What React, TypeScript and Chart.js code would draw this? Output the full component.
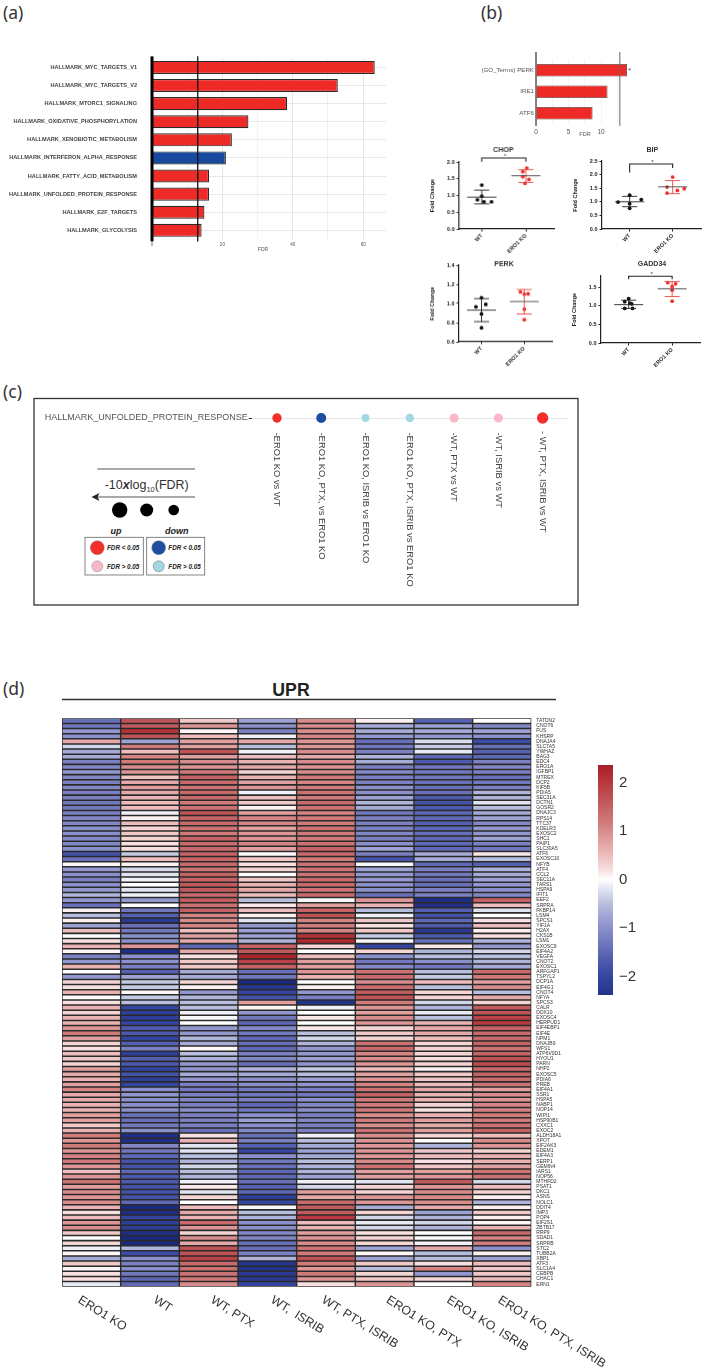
import React, { useEffect, useRef } from "react";
import { Chart, registerables } from "chart.js";

Chart.register(...registerables);

const SANS = "'Liberation Sans', Arial, sans-serif";

// ---------- panel (a)
const hallmarkTerms = [
  "HALLMARK_MYC_TARGETS_V1", "HALLMARK_MYC_TARGETS_V2", "HALLMARK_MTORC1_SIGNALING",
  "HALLMARK_OXIDATIVE_PHOSPHORYLATION", "HALLMARK_XENOBIOTIC_METABOLISM",
  "HALLMARK_INTERFERON_ALPHA_RESPONSE", "HALLMARK_FATTY_ACID_METABOLISM",
  "HALLMARK_UNFOLDED_PROTEIN_RESPONSE", "HALLMARK_E2F_TARGETS", "HALLMARK_GLYCOLYSIS",
];
const hallmarkFdr = [63.3, 52.8, 38.4, 27.4, 22.7, 21, 16.2, 16.2, 14.9, 14.1];
const hallmarkColors = ["#ee2a26", "#ee2a26", "#ee2a26", "#ee2a26", "#ee2a26", "#174a9e", "#ee2a26", "#ee2a26", "#ee2a26", "#ee2a26"];
const hallmarkThreshold = 13;

// ---------- panel (b) top
const armTerms = ["(GO_Terms) PERK", "IRE1", "ATF6"];
const armFdr = [14, 11, 8.7];
const armThreshold = 12.9;

// ---------- panel (b) scatter plots: [jitter, value]
const chopWt = [[0, 1.31], [0, 0.98], [-0.1, 0.87], [0.05, 0.81], [0.22, 0.81]];
const chopKo = [[0.02, 1.82], [-0.07, 1.71], [-0.07, 1.56], [0.07, 1.48], [-0.02, 1.36]];
const chopStats = [[0.95, 1.16, 0.75], [1.59, 1.77, 1.39]];
const bipWt = [[0, 1.24], [0.27, 1.08], [-0.27, 0.99], [0, 0.93], [0, 0.76]];
const bipKo = [[0, 1.91], [-0.13, 1.54], [0.27, 1.48], [0.11, 1.42], [-0.13, 1.32]];
const bipStats = [[1.0, 1.2, 0.82], [1.55, 1.78, 1.3]];
const perkWt = [[0, 1.06], [0.1, 0.99], [-0.13, 0.965], [0, 0.89], [0, 0.746]];
const perkKo = [[-0.09, 1.12], [0.09, 1.1], [0, 1.097], [0, 0.94], [0, 0.83]];
const perkStats = [[0.93, 1.05, 0.81], [1.02, 1.146, 0.89]];
const gaddWt = [[0, 1.19], [-0.09, 1.11], [0.03, 1.07], [0.07, 1.05], [-0.09, 0.93], [0.09, 0.93]];
const gaddKo = [[-0.1, 1.62], [0.08, 1.59], [0, 1.52], [0, 1.42], [0, 1.125]];
const gaddStats = [[1.03, 1.15, 0.93], [1.455, 1.65, 1.25]];
const groupLabels = ["WT", "ERO1 KO"];

// ---------- panel (c)
const comparisonTerm = ["HALLMARK_UNFOLDED_PROTEIN_RESPONSE"];
const comparisons = [
  "-ERO1 KO vs WT", "-ERO1 KO, PTX, vs ERO1 KO", "-ERO1 KO, ISRIB vs ERO1 KO",
  "-ERO1 KO, PTX, ISRIB vs ERO1 KO", "-WT, PTX vs WT", "-WT, ISRIB vs WT", "- WT, PTX, ISRIB vs WT",
];
const comparisonSize = [4.7, 5, 4, 4.2, 4.5, 4.5, 5.7];
const comparisonColor = ["#f22f2a", "#1f4ea1", "#a3d7e4", "#a3d7e4", "#f9b8c8", "#f9b8c8", "#f22f2a"];

// ---------- panel (d)
const genes = [
  "TATDN2","CNOT6","FUS","KHSRP","DNAJA4","SLC7A5","YWHAZ","BAG3","EDC4","ERO1A",
  "IGFBP1","MTREX","DCP2","KIF5B","PDIA5","SEC31A","DCTN1","GOSR2","DNAJC3","RPS14",
  "TTC37","KDELR3","EXOSC2","SHC1","PAIP1","SLC30A5","ATF6","EXOSC10","NFYB","ATF4",
  "CCL2","SEC11A","TARS1","HSPA9","IFIT1","EEF2","SRPRA","FKBP14","LSM4","SPCS1",
  "YIF1A","H2AX","CKS1B","LSM1","EXOSC9","EIF4A2","VEGFA","CNOT2","EXOSC1","ARFGAP1",
  "TSPYL2","DCP1A","EIF4G1","CNOT4","NFYA","SPCS3","CALR","DDX10","EXOSC4","HERPUD1",
  "EIF4EBP1","EIF4E","NPM1","DNAJB9","WFS1","ATP6V0D1","HYOU1","PARN","NHP2","EXOSC5",
  "PDIA6","PREB","EIF4A1","SSR1","HSPA5","NABP1","NOP14","WIPI1","HSP90B1","CXXC1",
  "EXOC2","ALDH18A1","XPOT","EIF2AK3","EDEM1","EIF4A3","SERP1","GEMIN4","IARS1","NOP56",
  "MTHFD2","PSAT1","DKC1","ASNS","NOLC1","DDIT4","IMP3","POP4","EIF2S1","ZBTB17",
  "RRP9","SDAD1","SRPRB","STC2","TUBB2A","XBP1","ATF3","SLC1A4","CEBPB","CHAC1","ERN1",
];
const samples = ["ERO1 KO", "WT", "WT, PTX", "WT,  ISRIB", "WT, PTX, ISRIB", "ERO1 KO, PTX", "ERO1 KO, ISRIB", "ERO1 KO, PTX, ISRIB"];
const zEro1Ko = [-1.4,-1.3,-.9,-1.0,.7,-.3,-.7,-.7,-1.2,-1.1,
  -.9,-1.1,-1.2,-1.1,-1.2,-1.2,-1.3,-1.3,-1.2,-1.1,
  -1.1,-1.0,-1.0,-1.1,-1.1,-1.0,-1.8,-1.4,.05,-.9,
  -1.0,-1.2,-1.0,-.9,-.6,-.9,-1.4,.1,-.5,.1,
  -.8,.5,0,.2,.6,.05,-1.2,-.9,.6,0,
  -.9,.3,.2,.6,0,.2,.6,.3,.6,.6,
  .9,1.2,.8,.3,.2,.5,.4,.3,.8,.7,
  .6,.8,1.1,.7,.7,.6,.6,.8,.8,.4,
  .6,1.2,.9,1.2,.9,1.1,1.2,.9,.5,.9,
  1.3,.8,1.0,.9,1.0,.6,.2,.5,.9,1.0,
  .4,0,.3,-.1,.05,-.7,.4,.05,.2,.2,
  -.15];
const zWt = [1.7,1.6,2.1,1.7,-.8,1.2,.5,1.1,1.2,1.0,
  .9,.45,.7,.8,.7,.6,.5,.5,-.1,.1,
  .5,.3,.4,.3,.2,.2,-.4,.5,.1,-.3,
  -.2,-.1,0,-.2,-.1,-.9,0,-1.3,-1.6,-2.2,
  -1.4,-1.3,-1.0,-1.0,.9,-2.4,-1.0,-1.0,-1.2,-1.6,
  -.8,-.4,-.4,.05,-.4,-.5,-2.0,-2.1,-2.1,-2.0,
  -1.7,-1.7,-2.0,-1.6,-1.2,-2.1,-1.6,-1.7,-2.0,-1.8,
  -2.1,-2.0,-1.0,-.9,-1.0,-1.0,-1.0,-1.4,-1.4,-1.3,
  -1.0,-2.4,-2.4,-1.1,-1.3,-1.5,-1.8,-1.8,-1.5,-1.7,
  -1.7,-1.8,-1.8,-1.8,-1.5,-2.5,-2.4,-2.0,-2.1,-2.1,
  -2.4,-2.5,-2.5,-.6,-1.9,-1.0,-1.2,-1.0,-1.3,-1.5,
  -1.5];
const zWtPtx = [.4,.9,.05,.5,.8,.8,1.7,.8,1.0,.9,
  1.2,1.5,1.4,1.3,1.4,1.4,1.2,1.3,1.7,1.5,
  1.4,1.3,1.2,1.5,1.4,1.4,1.5,1.5,1.4,1.3,
  1.5,1.5,1.6,1.6,1.4,1.6,1.3,1.5,1.1,1.0,
  1.1,.5,.8,.7,-1.5,.7,.2,.4,.4,-.7,
  -.7,.3,.1,-.9,-.6,-.5,-.5,-.1,-.05,0,
  -.9,-.9,-.6,-.7,.05,-.5,-.6,-.9,-.9,-.7,
  -.9,-1.2,-1.3,-1.2,-1.1,-1.2,-1.0,-1.2,-1.2,-1.2,
  -1.4,.2,.6,-.2,-.2,-.5,-.6,-.3,-.5,-.6,
  -.1,.15,-.2,.3,0,.5,.7,.6,1.4,.9,
  .3,1.0,.7,1.7,1.7,1.9,1.4,1.3,1.3,1.2,
  1.0];
const zWtIsrib = [-.8,-1.0,-1.2,-.1,.7,-.5,-.1,.5,.6,.7,
  .3,.6,.8,.9,-.1,.5,.4,.1,.8,1.1,
  1.1,.8,.9,.9,1.1,.8,.02,.4,.2,.3,
  0,.4,.6,.7,.5,-.5,.15,.5,.1,-.2,
  -.9,-.8,-.8,-.6,1.5,1.6,2.3,1.9,1.5,-1.4,
  -1.3,-2.5,-2.2,-2.0,-1.8,.8,.05,-.9,-1.3,-1.5,
  -1.1,-1.3,-1.5,-1.4,-1.5,-1.2,-1.1,-1.4,-.6,-.7,
  -1.0,-1.0,-1.3,-1.3,-1.2,-1.5,-1.3,-1.0,-.8,-1.0,
  -1.1,-1.4,-1.2,-1.6,-2.0,-1.0,-1.3,-1.4,-1.5,-1.5,
  -1.4,-1.6,-1.5,-2.1,-2.0,-.05,-.5,-.6,-1.0,-1.0,
  -1.1,-1.1,-1.4,-1.4,-1.2,-.6,-2.3,-2.3,-2.2,-2.2,
  -2.0];
const zWtPtxIsrib = [1.0,1.0,1.0,1.1,.9,.9,1.0,.7,1.0,.9,
  1.0,1.2,1.1,1.2,1.3,1.2,1.4,1.3,1.1,1.2,
  1.2,1.3,1.2,1.2,1.3,1.5,1.4,1.2,1.3,1.3,
  1.3,1.4,1.4,1.3,1.4,-.05,.8,1.5,1.7,1.1,
  1.2,1.1,2.1,2.2,.3,0,.5,.8,.8,.9,
  .6,0,.1,-.9,-1.2,-2.3,-.1,0,.15,0,
  .15,-.5,-.3,-.6,-.9,-.9,-.8,-.9,-.4,-.5,
  -.8,-.9,-1.2,-1.3,-1.0,-1.1,-1.0,-1.2,-1.1,-1.2,
  -1.2,-.1,-.5,-.7,-.8,-.7,-.5,-.6,-.6,-.8,
  -.1,-.3,.8,.7,1.4,1.6,1.6,2.0,.5,.6,
  .8,.9,1.0,1.3,1.2,1.7,1.2,.9,1.2,.9,
  .2];
const zKoPtx = [.1,-.7,-.7,-.9,-1.4,-1.3,-1.2,-.6,-.7,-1.2,
  -1.1,-1.2,-1.2,-1.0,-1.0,-.8,-.6,-.7,-1.3,-1.2,
  -1.2,-1.2,-1.1,-1.2,-1.0,-.8,-1.2,-1.8,-.05,-.8,
  -.9,-.9,-1.0,-1.0,-1.4,.9,.6,-.5,-.1,.4,
  .2,.4,-.4,-.05,-2.0,.3,-1.0,-1.3,-1.1,1.3,
  1.4,1.0,1.4,1.6,1.7,1.2,.9,.8,1.0,.9,
  .3,.4,.3,1.3,1.4,1.1,1.0,.9,.5,.8,
  .9,1.1,1.3,1.5,1.2,1.2,1.2,1.0,1.2,1.0,
  1.3,1.0,.9,.9,.9,.9,1.0,1.3,.8,.8,
  -.2,.3,.3,.9,.9,-.7,.3,-.3,-.15,-.3,
  .2,.3,.3,-.8,.05,-.8,.4,-.5,.3,.4,
  .9];
const zKoIsrib = [-1.6,-.8,-.7,-.9,-.25,-.4,-.15,-1.5,-1.7,-1.3,
  -1.3,-1.3,-1.4,-1.4,-1.4,-1.7,-1.8,-1.7,-1.5,-1.5,
  -1.6,-1.5,-1.4,-1.5,-1.5,-1.5,-.7,-.7,-1.5,-1.2,
  -1.3,-1.4,-1.4,-1.2,-1.2,-2.4,-2.4,-1.6,-1.8,-1.5,
  -1.7,-2.2,-1.7,-1.4,.15,-.6,-.5,-1.0,-1.3,-.5,
  -.4,.5,-.5,.3,.3,-.3,-.6,-.15,-.5,.6,
  .7,.7,.5,.3,.3,.3,.2,.3,.1,.4,
  .4,.5,.7,.6,.6,.3,.2,.6,.8,.7,
  .8,.3,0,-.6,.4,.5,.2,.4,.8,.9,
  1.6,.9,1.0,1.0,1.0,.7,-.8,-.6,-.3,-.6,
  0,.02,-.1,.7,-.5,-.5,.2,1.1,-.9,.3,
  0];
const zKoPtxIsrib = [0,-1.1,-.8,-1.0,-1.9,-1.4,-1.6,-1.5,-1.2,-1.1,
  -1.2,-1.4,-1.3,-1.2,-.6,-.6,-.2,-.5,-.7,-.8,
  -1.1,-.9,-.9,-.8,-1.2,-1.3,.15,-.5,-1.6,-.6,
  -.7,-.8,-.9,-1.0,-1.1,1.5,.5,-.2,0,.2,
  .5,.1,.2,-.6,-.9,-.3,-.5,-.6,-.7,1.4,
  1.2,.8,1.0,-.5,.7,.3,1.6,1.7,1.9,2.0,
  1.5,1.4,1.4,1.5,1.3,1.5,1.7,1.8,1.4,1.5,
  1.4,1.3,.8,1.0,.9,1.1,1.1,1.2,1.2,1.3,
  1.5,.5,1.0,.9,.3,.6,.6,.8,1.3,1.3,
  -.3,.5,.3,.1,-.6,.1,.4,.1,.05,.6,
  1.4,1.1,1.2,-1.0,.1,-.8,.5,.4,.4,.5,
  1.1];
const heatColumns = [zEro1Ko, zWt, zWtPtx, zWtIsrib, zWtPtxIsrib, zKoPtx, zKoIsrib, zKoPtxIsrib];
const colorbarTicks = [-2, -1, 0, 1, 2];

// z → colour ramp
const rampZ = [-2.5, -2.0, -1.6, -1.2, -0.9, -0.5, -0.2, 0, 0.2, 0.5, 0.85, 1.2, 1.6, 2.0, 2.4];
const rampC = [
  [26, 40, 125], [51, 69, 160], [85, 96, 176], [122, 128, 194], [146, 152, 207], [184, 190, 221], [224, 227, 240],
  [255, 255, 255], [248, 224, 224], [238, 188, 188], [224, 154, 154], [208, 122, 122], [192, 90, 92], [184, 58, 62], [168, 28, 34],
];
function zColor(z: number) {
  let i = 0;
  while (i < rampZ.length - 2 && z > rampZ[i + 1]) i++;
  const t = Math.max(0, Math.min(1, (z - rampZ[i]) / (rampZ[i + 1] - rampZ[i])));
  const c = rampC[i].map((v, k) => Math.round(v + (rampC[i + 1][k] - v) * t));
  return `rgb(${c[0]},${c[1]},${c[2]})`;
}

// ---------- helpers
type TextItem = { t: string; x: number; y: number; font: string; color?: string; align?: any; base?: any; rot?: number };
function pageText(items: TextItem[], ox: number, oy: number) {
  return {
    id: "pageText",
    afterDraw(chart: any) {
      const ctx = chart.ctx;
      items.forEach((it) => {
        ctx.save();
        ctx.translate(it.x - ox, it.y - oy);
        if (it.rot) ctx.rotate((it.rot * Math.PI) / 180);
        ctx.font = it.font;
        ctx.fillStyle = it.color || "#333";
        ctx.textAlign = it.align || "center";
        ctx.textBaseline = it.base || "middle";
        ctx.fillText(it.t, 0, 0);
        ctx.restore();
      });
    },
  };
}
function vLines(lines: { v: number; w: number; c: string; up: number; down: number }[]) {
  return {
    id: "vLines",
    afterDatasetsDraw(chart: any) {
      const { ctx, chartArea, scales } = chart;
      lines.forEach((l) => {
        const px = scales.x.getPixelForValue(l.v);
        ctx.save();
        ctx.strokeStyle = l.c;
        ctx.lineWidth = l.w;
        ctx.beginPath();
        ctx.moveTo(px, chartArea.top - l.up);
        ctx.lineTo(px, chartArea.bottom + l.down);
        ctx.stroke();
        ctx.restore();
      });
    },
  };
}

function ChartBox({ x, y, w, h, make }: { x: number; y: number; w: number; h: number; make: () => any }) {
  const ref = useRef<HTMLCanvasElement | null>(null);
  useEffect(() => {
    const c = new Chart(ref.current as HTMLCanvasElement, make());
    return () => c.destroy();
  }, []);
  return <canvas ref={ref} width={w} height={h} style={{ position: "absolute", left: x, top: y, width: w, height: h }} />;
}

// ---------- chart configs
function hallmarkConfig() {
  const X = 0, Y = 40, W = 400, H = 225;
  const top = 56.9 - Y, bottom = 239.4 - Y;
  return {
    type: "bar",
    data: {
      labels: hallmarkTerms,
      datasets: [{ data: hallmarkFdr, backgroundColor: hallmarkColors, borderColor: "#2b2b2b", borderWidth: 1.2, barPercentage: 0.72, categoryPercentage: 1 }],
    },
    options: {
      indexAxis: "y", responsive: false, animation: false,
      layout: { padding: { top, right: W - 386 } },
      plugins: { legend: { display: false }, tooltip: { enabled: false } },
      scales: {
        x: {
          type: "linear", min: 0, max: 66.5,
          afterFit: (s: any) => { s.height = H - bottom; },
          grid: { color: (c: any) => (c.tick.value % 20 === 0 ? "#e6e6e6" : "#f2f2f2"), drawTicks: false },
          border: { display: false },
          ticks: { stepSize: 10, includeBounds: false, autoSkip: false, maxRotation: 0, padding: 3, color: "#555", font: { size: 4.5, family: SANS },
            callback: (v: number) => (v % 20 === 0 ? String(v) : "") },
        },
        y: {
          afterFit: (s: any) => { s.width = 152; },
          grid: { offset: false, color: "#e8e8e8", drawTicks: false },
          border: { display: false },
          ticks: { autoSkip: false, padding: 15, color: "#444", font: { size: 5.6, weight: "bold", family: SANS } },
        },
      },
    },
    plugins: [
      vLines([{ v: 0, w: 3, c: "#000", up: 2, down: 2 }, { v: hallmarkThreshold, w: 1.3, c: "#111", up: 2, down: 2 }]),
      pageText([{ t: "FDR", x: 263, y: 250, font: `5px ${SANS}`, color: "#555" }], X, Y),
    ],
  };
}

function armConfig() {
  const X = 470, Y = 40, W = 239, H = 105;
  const top = 59.5 - Y, bottom = 124 - Y;
  return {
    type: "bar",
    data: {
      labels: armTerms,
      datasets: [{ data: armFdr, backgroundColor: "#ee2a26", borderColor: "#444", borderWidth: 0.8, barPercentage: 0.59, categoryPercentage: 1 }],
    },
    options: {
      indexAxis: "y", responsive: false, animation: false,
      layout: { padding: { top, right: W - 160.25 } },
      plugins: { legend: { display: false }, tooltip: { enabled: false } },
      scales: {
        x: {
          type: "linear", min: 0, max: 14.5,
          afterFit: (s: any) => { s.height = H - bottom; },
          grid: { color: "#f3f3f3", drawTicks: false },
          border: { display: false },
          ticks: { stepSize: 2.5, includeBounds: false, autoSkip: false, maxRotation: 0, padding: 4, color: "#555", font: { size: 6.5, family: SANS },
            callback: (v: number) => (v % 5 === 0 ? String(v) : "") },
        },
        y: {
          afterFit: (s: any) => { s.width = 66; },
          grid: { display: false, drawTicks: false },
          border: { display: false },
          ticks: { autoSkip: false, padding: 2, color: "#555", font: { size: 6.2, family: SANS } },
        },
      },
    },
    plugins: [
      vLines([{ v: 0, w: 1.2, c: "#333", up: 7.5, down: 2 }, { v: armThreshold, w: 1, c: "#666", up: 7.5, down: 2 }]),
      pageText([
        { t: "*", x: 629.5, y: 71, font: `7px ${SANS}`, color: "#333" },
        { t: "FDR", x: 585, y: 134, font: `5.5px ${SANS}`, color: "#555" },
      ], X, Y),
    ],
  };
}

type ScatterSpec = {
  title: string; titleX: number; titleY: number;
  axisX: number; wtX: number; koX: number; rightX: number; topY: number; bottomY: number;
  yMin: number; yMax: number; step: number;
  wt: number[][]; ko: number[][]; stats: number[][];
  bracket?: number[]; // y, left end, right end values
  starY?: number;
};

function scatterConfig(sp: ScatterSpec) {
  const X = sp.axisX - 32, Y = sp.topY - 20;
  const unit = sp.koX - sp.wtX;
  const xMin = (sp.axisX - sp.wtX) / unit, xMax = (sp.rightX - sp.wtX) / unit;
  const toXY = (rows: number[][], g: number) => rows.map((r) => ({ x: g + r[0], y: r[1] }));
  const statPlugin = {
    id: "stats",
    afterDatasetsDraw(chart: any) {
      const { ctx, scales } = chart;
      const seg = (x0: number, y0: number, x1: number, y1: number) => { ctx.beginPath(); ctx.moveTo(x0, y0); ctx.lineTo(x1, y1); ctx.stroke(); };
      sp.stats.forEach((st, g) => {
        const cx = scales.x.getPixelForValue(g);
        const m = scales.y.getPixelForValue(st[0]), hi = scales.y.getPixelForValue(st[1]), lo = scales.y.getPixelForValue(st[2]);
        ctx.save();
        ctx.strokeStyle = g === 0 ? "#222" : "#f0453f";
        ctx.lineWidth = 0.9;
        seg(cx, hi, cx, lo);
        seg(cx - 7.5, hi, cx + 7.5, hi);
        seg(cx - 7.5, lo, cx + 7.5, lo);
        ctx.strokeStyle = g === 0 ? "#222" : "#444";
        seg(cx - 14.5, m, cx + 14.5, m);
        ctx.restore();
      });
      if (sp.bracket) {
        const [b, l, r] = sp.bracket;
        const x0 = scales.x.getPixelForValue(0), x1 = scales.x.getPixelForValue(1);
        ctx.save();
        ctx.strokeStyle = "#222";
        ctx.lineWidth = 1.1;
        ctx.beginPath();
        ctx.moveTo(x0, scales.y.getPixelForValue(l));
        ctx.lineTo(x0, scales.y.getPixelForValue(b));
        ctx.lineTo(x1, scales.y.getPixelForValue(b));
        ctx.lineTo(x1, scales.y.getPixelForValue(r));
        ctx.stroke();
        ctx.restore();
      }
    },
  };
  const texts: TextItem[] = [{ t: sp.title, x: sp.titleX, y: sp.titleY, font: `bold 7px ${SANS}`, color: "#333" }];
  if (sp.starY) texts.push({ t: "*", x: (sp.wtX + sp.koX) / 2, y: sp.starY, font: `6px ${SANS}`, color: "#333" });
  return {
    type: "scatter",
    data: {
      datasets: [
        { data: toXY(sp.wt, 0), backgroundColor: "#111", borderWidth: 0, pointRadius: 1.9, clip: false },
        { data: toXY(sp.ko, 1), backgroundColor: "#f2342e", borderWidth: 0, pointRadius: 1.9, clip: false },
      ],
    },
    options: {
      responsive: false, animation: false,
      layout: { padding: { top: 20, right: 2 } },
      plugins: { legend: { display: false }, tooltip: { enabled: false } },
      scales: {
        x: {
          type: "linear", min: xMin, max: xMax,
          afterFit: (s: any) => { s.height = 40; },
          afterBuildTicks: (s: any) => { s.ticks = [{ value: 0 }, { value: 1 }]; },
          grid: { drawOnChartArea: false, tickLength: 2.5, tickColor: "#222", tickWidth: 1 },
          border: { color: "#222", width: 1.2 },
          ticks: { autoSkip: false, minRotation: 45, maxRotation: 45, padding: 1, color: "#222", font: { size: 5.5, weight: "bold", family: SANS },
            callback: (v: number) => groupLabels[v] },
        },
        y: {
          type: "linear", min: sp.yMin, max: sp.yMax,
          afterFit: (s: any) => { s.width = 32; },
          grid: { drawOnChartArea: false, tickLength: 2.5, tickColor: "#222", tickWidth: 1 },
          border: { color: "#222", width: 1.2 },
          title: { display: true, text: "Fold Change", color: "#222", font: { size: 5.5, weight: "bold", family: SANS }, padding: { top: 2, bottom: 0 } },
          ticks: { stepSize: sp.step, includeBounds: false, autoSkip: false, padding: 2, color: "#222", font: { size: 5.5, weight: "bold", family: SANS },
            callback: (v: number) => v.toFixed(1) },
        },
      },
    },
    plugins: [statPlugin, pageText(texts, X, Y)],
  };
}

const chopSpec: ScatterSpec = { title: "CHOP", titleX: 502.7, titleY: 150, axisX: 459, wtX: 482, koX: 527, rightX: 555.7, topY: 162, bottomY: 229, yMin: 0, yMax: 2, step: 0.5, wt: chopWt, ko: chopKo, stats: chopStats, bracket: [2.12, 2.01, 2.01], starY: 156.5 };
const bipSpec: ScatterSpec = { title: "BIP", titleX: 652, titleY: 150, axisX: 601.7, wtX: 630, koX: 674, rightX: 703, topY: 160.7, bottomY: 228.7, yMin: 0, yMax: 2.5, step: 0.5, wt: bipWt, ko: bipKo, stats: bipStats, bracket: [2.39, 2.08, 2.24], starY: 162.5 };
const perkSpec: ScatterSpec = { title: "PERK", titleX: 504, titleY: 264, axisX: 459, wtX: 482, koX: 525.7, rightX: 554, topY: 265, bottomY: 341.7, yMin: 0.6, yMax: 1.4, step: 0.2, wt: perkWt, ko: perkKo, stats: perkStats };
const gaddSpec: ScatterSpec = { title: "GADD34", titleX: 651.7, titleY: 264.3, axisX: 600.7, wtX: 629, koX: 673.5, rightX: 702, topY: 276, bottomY: 343.3, yMin: 0, yMax: 1.8, step: 0.5, wt: gaddWt, ko: gaddKo, stats: gaddStats, bracket: [1.795, 1.71, 1.71], starY: 274.5 };

function scatterBox(sp: ScatterSpec) {
  const X = sp.axisX - 32, Y = sp.topY - 20;
  return <ChartBox x={X} y={Y} w={sp.rightX - X + 2} h={sp.bottomY - Y + 40} make={() => scatterConfig(sp)} />;
}

function comparisonConfig() {
  const X = 36, Y = 400, W = 540, H = 204;
  return {
    type: "bubble",
    data: {
      datasets: [{
        data: comparisonSize.map((r, i) => ({ x: i, y: comparisonTerm[0], r })),
        backgroundColor: comparisonColor, borderWidth: 0, clip: false,
      }],
    },
    options: {
      responsive: false, animation: false,
      layout: { padding: { top: 405 - Y, right: W - (569 - X), bottom: Y + H - 429.6 } },
      plugins: { legend: { display: false }, tooltip: { enabled: false } },
      scales: {
        x: {
          type: "linear", min: -0.571, max: 6.596, display: false,
        },
        y: {
          type: "category", labels: comparisonTerm, offset: true,
          afterFit: (s: any) => { s.width = 251.7 - X; },
          grid: { offset: false, color: "#e6e6e6", tickLength: 3, tickColor: "#333" },
          border: { display: false },
          ticks: { padding: 1, color: "#555", font: { size: 9, family: SANS } },
        },
      },
    },
    plugins: [{
      id: "compLabels",
      afterDraw(chart: any) {
        const { ctx, scales } = chart;
        comparisons.forEach((label, i) => {
          ctx.save();
          ctx.translate(scales.x.getPixelForValue(i), (i === 6 ? 431 : 432.5) - Y);
          ctx.rotate(Math.PI / 2);
          ctx.font = `9.4px ${SANS}`;
          ctx.fillStyle = "#444";
          ctx.textAlign = "left";
          ctx.textBaseline = "middle";
          ctx.fillText(label, 0, 0);
          ctx.restore();
        });
      },
    }],
  };
}

const sampleLabelStart = [[82.4, 1294], [157.8, 1294], [215, 1294], [275, 1294], [326, 1294], [390.5, 1294], [451, 1294], [502.4, 1294]];
const CELL_INSET = 0.012;

function heatConfig() {
  const X = 40, Y = 710, W = 600, H = 660;
  const texts: TextItem[] = samples.map((t, i) => ({
    t, x: sampleLabelStart[i][0], y: sampleLabelStart[i][1], font: `12.3px ${SANS}`, color: "#333", align: "left", base: "top", rot: 32,
  }));
  return {
    type: "bar",
    data: {
      labels: genes,
      datasets: heatColumns.map((col, c) => ({
        label: samples[c],
        data: col.map(() => [c + CELL_INSET, c + 1 - CELL_INSET]),
        backgroundColor: col.map(zColor),
        borderWidth: 0,
        inflateAmount: 0,
        barPercentage: 0.7,
        categoryPercentage: 1,
        grouped: false,
      })),
    },
    options: {
      indexAxis: "y", responsive: false, animation: false,
      layout: { padding: { left: 22, top: 8.3, bottom: H - (1286.7 - Y) } },
      plugins: { legend: { display: false }, tooltip: { enabled: false } },
      scales: {
        x: { type: "linear", min: 0, max: 8, display: false },
        y: {
          position: "right",
          afterFit: (s: any) => { s.width = W - (531.3 - X); },
          grid: { display: false, drawTicks: false },
          border: { display: false },
          ticks: { autoSkip: false, padding: 5, color: "#333", font: { size: 5, family: SANS } },
        },
      },
    },
    plugins: [
      {
        id: "heatBackdrop",
        beforeDatasetsDraw(chart: any) {
          const { ctx, chartArea: a } = chart;
          ctx.save();
          ctx.fillStyle = "#2a2a2a";
          ctx.fillRect(a.left, a.top, a.right - a.left, a.bottom - a.top);
          ctx.restore();
        },
      },
      pageText(texts, X, Y),
    ],
  };
}

function colorbarConfig() {
  const X = 590, Y = 750, W = 70, H = 260;
  return {
    type: "bar",
    data: {
      labels: ["z"],
      datasets: [{
        data: [[-2.38, 2.37]],
        barPercentage: 1, categoryPercentage: 1, borderWidth: 0,
        backgroundColor: (c: any) => {
          const area = c.chart.chartArea;
          if (!area) return "#888";
          const g = c.chart.ctx.createLinearGradient(0, area.bottom, 0, area.top);
          rampZ.forEach((z) => {
            const t = (z + 2.38) / 4.75;
            if (t >= 0 && t <= 1) g.addColorStop(t, zColor(z));
          });
          g.addColorStop(0, zColor(-2.3));
          g.addColorStop(1, zColor(2.37));
          return g;
        },
      }],
    },
    options: {
      responsive: false, animation: false,
      layout: { padding: { left: 598 - X, top: 758 - Y, bottom: Y + H - 997 } },
      plugins: { legend: { display: false }, tooltip: { enabled: false } },
      scales: {
        x: { display: false },
        y: {
          type: "linear", position: "right", min: -2.38, max: 2.37,
          afterFit: (s: any) => { s.width = X + W - 613; },
          afterBuildTicks: (s: any) => { s.ticks = colorbarTicks.map((value) => ({ value })); },
          grid: { display: false, drawTicks: false },
          border: { display: false },
          ticks: { autoSkip: false, padding: 6, color: "#333", font: { size: 15, family: SANS },
            callback: (v: number) => (v < 0 ? "\u2212" + Math.abs(v) : String(v)) },
        },
      },
    },
  };
}

function Overlay() {
  const lab = { fontFamily: "'Noto Sans', sans-serif", fontSize: 17.5, fill: "#333" };
  const small = { fontFamily: SANS, fontSize: 6.3, fontStyle: "italic", fontWeight: 700, fill: "#222" };
  const ud = { fontFamily: SANS, fontSize: 9, fontStyle: "italic", fontWeight: 700, fill: "#222", textAnchor: "middle" as const };
  return (
    <svg width={709} height={1370} style={{ position: "absolute", left: 0, top: 0 }}>
      <text x={3} y={19} {...lab}>(a)</text>
      <text x={481} y={19} {...lab}>(b)</text>
      <text x={3} y={398} {...lab}>(c)</text>
      <text x={3} y={695} {...lab}>(d)</text>

      <rect x={34} y={398.5} width={544} height={206.5} fill="none" stroke="#333" strokeWidth={1.3} />
      <line x1={97.3} x2={195} y1={469} y2={469} stroke="#555" strokeWidth={1} />
      <text x={146.7} y={489} textAnchor="middle" fontFamily={SANS} fontSize={12.5} fill="#333">
        -10<tspan fontWeight={700} fontStyle="italic">x</tspan>log<tspan fontSize={7.5} dy={3}>10</tspan><tspan dy={-3}>(FDR)</tspan>
      </text>
      <line x1={96} x2={195} y1={497} y2={497} stroke="#555" strokeWidth={1.2} />
      <polygon points="91.5,497 99.5,493 97.5,497 99.5,501" fill="#222" />
      <circle cx={119.7} cy={510} r={7.7} fill="#000" />
      <circle cx={146.7} cy={510} r={6.5} fill="#000" />
      <circle cx={173.7} cy={510} r={5.3} fill="#000" />
      <text x={116} y={534} {...ud}>up</text>
      <text x={176.7} y={534} {...ud}>down</text>
      <rect x={85} y={537.3} width={58.3} height={37.7} fill="none" stroke="#666" strokeWidth={0.8} />
      <rect x={146.7} y={537.3} width={58} height={37.7} fill="none" stroke="#666" strokeWidth={0.8} />
      <circle cx={97.3} cy={547.7} r={7} fill="#f22f2a" stroke="#888" strokeWidth={0.5} />
      <circle cx={97.3} cy={566.3} r={5.5} fill="#f9b8c8" stroke="#888" strokeWidth={0.5} />
      <circle cx={158.7} cy={547.7} r={7} fill="#1f4ea1" stroke="#888" strokeWidth={0.5} />
      <circle cx={158.7} cy={566.3} r={5.5} fill="#a3d7e4" stroke="#666" strokeWidth={0.5} />
      <text x={107} y={550} {...small}>FDR &lt; 0.05</text>
      <text x={107} y={568.5} {...small}>FDR &gt; 0.05</text>
      <text x={168.3} y={550} {...small}>FDR &lt; 0.05</text>
      <text x={168.3} y={568.5} {...small}>FDR &gt; 0.05</text>

      <text x={291} y={695.5} textAnchor="middle" fontFamily={SANS} fontWeight={700} fontSize={17.7} fill="#222">UPR</text>
      <line x1={62} x2={556} y1={699.5} y2={699.5} stroke="#333" strokeWidth={1.5} />
    </svg>
  );
}

export default function App() {
  return (
    <div style={{ position: "absolute", left: 0, top: 0, width: 709, height: 1370, overflow: "hidden", background: "#fff" }}>
      <Overlay />
      <ChartBox x={0} y={40} w={400} h={225} make={hallmarkConfig} />
      <ChartBox x={470} y={40} w={239} h={105} make={armConfig} />
      {scatterBox(chopSpec)}
      {scatterBox(bipSpec)}
      {scatterBox(perkSpec)}
      {scatterBox(gaddSpec)}
      <ChartBox x={36} y={400} w={540} h={204} make={comparisonConfig} />
      <ChartBox x={40} y={710} w={600} h={660} make={heatConfig} />
      <ChartBox x={590} y={750} w={70} h={260} make={colorbarConfig} />
    </div>
  );
}
